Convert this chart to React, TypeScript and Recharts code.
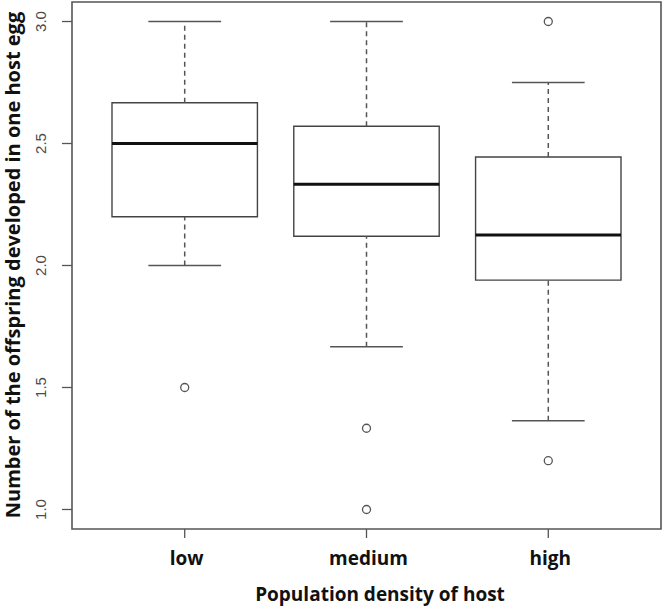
import React from "react";
import {
  ComposedChart,
  XAxis,
  YAxis,
  ReferenceArea,
  ReferenceLine,
  Scatter,
  Label,
} from "recharts";

const categories = ["low", "medium", "high"];
const positions = [1, 2, 3];
const lowerWhiskers = [2.0, 1.667, 1.364];
const q1s = [2.2, 2.12, 1.94];
const medians = [2.5, 2.333, 2.125];
const q3s = [2.667, 2.571, 2.445];
const upperWhiskers = [3.0, 3.0, 2.75];
const outlierCategory = [1, 2, 2, 3, 3];
const outlierValues = [1.5, 1.333, 1.0, 3.0, 1.2];
const yTicks = [1.0, 1.5, 2.0, 2.5, 3.0];

const outliers = outlierCategory.map((c, i) => ({ x: c, y: outlierValues[i] }));

const BOX_HALF = 0.4;
const CAP_HALF = 0.2;
const X_DOMAIN: [number, number] = [0.38, 3.62];
const Y_DOMAIN: [number, number] = [0.92, 3.08];

const FONT_TITLE = "'Open Sans', 'DejaVu Sans', sans-serif";
const FONT_TICK = "'Liberation Sans', Arial, sans-serif";

const YTick = (props: any) => {
  const { x, y, payload } = props;
  const tx = x - 14;
  return (
    <text
      x={tx}
      y={y}
      transform={`rotate(-90, ${tx}, ${y})`}
      textAnchor="middle"
      fontFamily={FONT_TICK}
      fontSize={15}
      fill="#4a4a4a"
    >
      {Number(payload.value).toFixed(1)}
    </text>
  );
};

const XTick = (props: any) => {
  const { x, y, payload } = props;
  const idx = positions.indexOf(payload.value);
  return (
    <text
      x={x + 2}
      y={y + 25}
      textAnchor="middle"
      fontFamily={FONT_TITLE}
      fontWeight="bold"
      fontSize={19}
      fill="#111"
    >
      {idx >= 0 ? categories[idx] : ""}
    </text>
  );
};

const Outlier = (props: any) => {
  const { cx, cy } = props;
  return <circle cx={cx} cy={cy} r={4} fill="none" stroke="#555" strokeWidth={1.3} />;
};

export default function App() {
  return (
    <div style={{ position: "absolute", left: 0, top: 0, background: "#fff" }}>
      <ComposedChart
        width={663}
        height={609}
        margin={{ top: 2, right: 2, bottom: 0, left: 0 }}
      >
        <XAxis
          type="number"
          dataKey="x"
          domain={X_DOMAIN}
          ticks={positions}
          allowDataOverflow
          axisLine={false}
          tickLine={{ stroke: "#555", strokeWidth: 1.3 }}
          tickSize={9}
          tick={<XTick />}
          height={80}
          interval={0}
        >
          <Label
            content={() => (
              <text
                x={380}
                y={601}
                textAnchor="middle"
                fontFamily={FONT_TITLE}
                fontWeight="bold"
                fontSize={19}
                fill="#111"
              >
                Population density of host
              </text>
            )}
          />
        </XAxis>
        <YAxis
          type="number"
          dataKey="y"
          domain={Y_DOMAIN}
          ticks={yTicks}
          allowDataOverflow
          axisLine={false}
          tickLine={{ stroke: "#555", strokeWidth: 1.3 }}
          tickSize={10}
          tick={<YTick />}
          width={72}
          interval={0}
        >
          <Label
            content={() => (
              <text
                x={20}
                y={265}
                transform="rotate(-90, 20, 265)"
                textAnchor="middle"
                fontFamily={FONT_TITLE}
                fontWeight="bold"
                fontSize={20}
                fill="#111"
              >
                Number of the offspring developed in one host egg
              </text>
            )}
          />
        </YAxis>

        {positions.map((p, i) => (
          <ReferenceLine
            key={`wu${i}`}
            segment={[
              { x: p, y: q3s[i] },
              { x: p, y: upperWhiskers[i] },
            ]}
            stroke="#555"
            strokeWidth={1.5}
            strokeDasharray="5 4"
          />
        ))}
        {positions.map((p, i) => (
          <ReferenceLine
            key={`wl${i}`}
            segment={[
              { x: p, y: lowerWhiskers[i] },
              { x: p, y: q1s[i] },
            ]}
            stroke="#555"
            strokeWidth={1.5}
            strokeDasharray="5 4"
          />
        ))}
        {positions.map((p, i) => (
          <ReferenceLine
            key={`cu${i}`}
            segment={[
              { x: p - CAP_HALF, y: upperWhiskers[i] },
              { x: p + CAP_HALF, y: upperWhiskers[i] },
            ]}
            stroke="#555"
            strokeWidth={1.5}
          />
        ))}
        {positions.map((p, i) => (
          <ReferenceLine
            key={`cl${i}`}
            segment={[
              { x: p - CAP_HALF, y: lowerWhiskers[i] },
              { x: p + CAP_HALF, y: lowerWhiskers[i] },
            ]}
            stroke="#555"
            strokeWidth={1.5}
          />
        ))}
        {positions.map((p, i) => (
          <ReferenceArea
            key={`b${i}`}
            x1={p - BOX_HALF}
            x2={p + BOX_HALF}
            y1={q1s[i]}
            y2={q3s[i]}
            fill="#fff"
            fillOpacity={1}
            stroke="#444"
            strokeWidth={1.4}
          />
        ))}
        {positions.map((p, i) => (
          <ReferenceLine
            key={`m${i}`}
            segment={[
              { x: p - BOX_HALF, y: medians[i] },
              { x: p + BOX_HALF, y: medians[i] },
            ]}
            stroke="#111"
            strokeWidth={3.2}
          />
        ))}
        <ReferenceArea
          x1={X_DOMAIN[0]}
          x2={X_DOMAIN[1]}
          y1={Y_DOMAIN[0]}
          y2={Y_DOMAIN[1]}
          fill="none"
          stroke="#555"
          strokeWidth={1.6}
        />
        <Scatter
          data={outliers}
          dataKey="y"
          shape={<Outlier />}
          isAnimationActive={false}
        />
      </ComposedChart>
    </div>
  );
}
